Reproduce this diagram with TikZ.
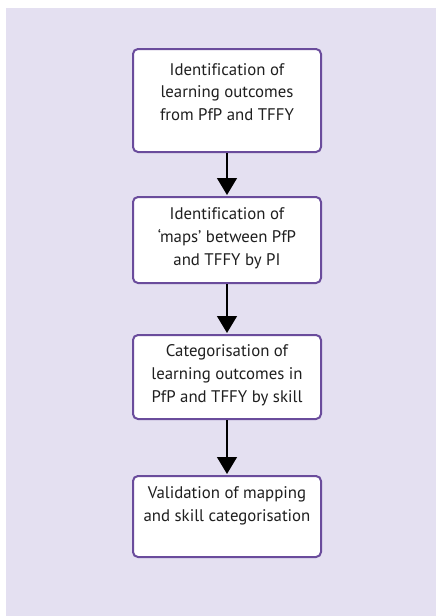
\documentclass[tikz,border=0pt]{standalone}
\usepackage{fontspec}
\setmainfont[Ligatures=NoCommon]{PT Sans}
\usetikzlibrary{arrows.meta}
\definecolor{bglav}{RGB}{228,224,241}
\definecolor{boxpurple}{RGB}{106,76,156}
\tikzset{
  stepbox/.style={draw=boxpurple, line width=2pt, fill=white, rounded corners=5pt,
    minimum width=188pt, inner sep=0pt},
  steptext/.style={align=center, inner sep=0pt, font=\fontsize{16.8}{22.8}\selectfont, text=black!88},
  flowarrow/.style={draw=black, line width=1.5pt, -{Triangle[width=20pt,length=17pt]}, shorten >=1pt}
}
\begin{document}
\begin{tikzpicture}[x=1pt,y=-1pt]
\useasboundingbox (0,0) rectangle (436,616);
\fill[white] (0,0) rectangle (436,616);
\fill[bglav] (6,8) rectangle (436,616);

\node[stepbox, minimum height=103pt] (b1) at (227,100.5) {};
\node[stepbox, minimum height=86pt] (b2) at (227,240) {};
\node[stepbox, minimum height=84pt] (b3) at (227,377) {};
\node[stepbox, minimum height=81pt] (b4) at (227,516.5) {};

\node[steptext] (t1) at (227,92) {Identification of\\learning outcomes\\from PfP and TFFY};
\node[steptext] (t2) at (227,238) {Identification of\\‘maps’ between PfP\\and TFFY by PI};
\node[steptext] (t3) at (227,375.5) {Categorisation of\\learning outcomes in\\PfP and TFFY by skill};
\node[steptext] (t4) at (227,505.5) {Validation of mapping\\and skill categorisation};

\draw[flowarrow] (b1.south) -- (b2.north);
\draw[flowarrow] (b2.south) -- (b3.north);
\draw[flowarrow] (b3.south) -- (b4.north);
\end{tikzpicture}
\end{document}
